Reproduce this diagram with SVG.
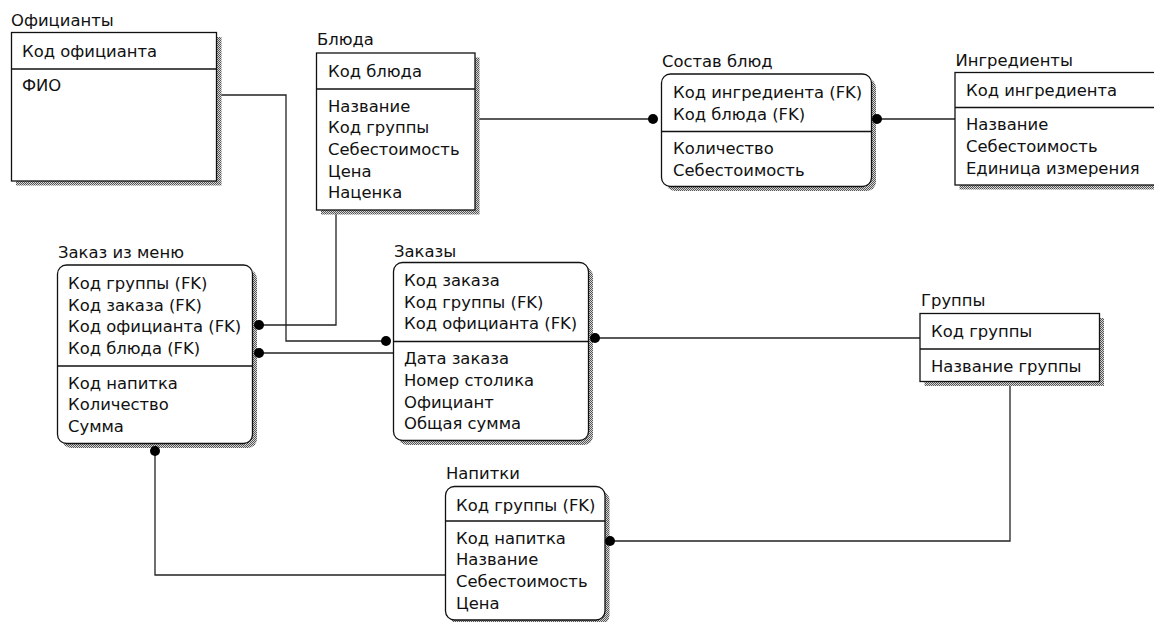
<svg xmlns="http://www.w3.org/2000/svg" width="1154" height="622" viewBox="0 0 1154 622">
<defs>
<pattern id="sh" width="2" height="2" patternUnits="userSpaceOnUse">
<rect width="2" height="2" fill="#d8d8d8"/>
<rect width="1" height="1" fill="#555"/>
<rect x="1" y="1" width="1" height="1" fill="#555"/>
</pattern>
<style>
.t{font-family:"DejaVu Sans",sans-serif;font-size:16.4px;fill:#111}
.box{fill:#fff;stroke:#111;stroke-width:1.3}
.shd{fill:url(#sh);stroke:none}
.div{stroke:#111;stroke-width:1.3}
.c{fill:none;stroke:#222;stroke-width:1.3}
.dot{fill:#000}
</style>
</defs>
<rect width="1154" height="622" fill="#fff"/>

<g id="connectors">
<path class="c" d="M217 95H286V341H386"/>
<path class="c" d="M336 210V325H259"/>
<path class="c" d="M393 353H259"/>
<path class="c" d="M475 119H653"/>
<path class="c" d="M955 119H877"/>
<path class="c" d="M920 338H595"/>
<path class="c" d="M1010 382V541H610"/>
<path class="c" d="M446 575H155V451"/>
</g>

<g id="node-oficianty">
<rect class="shd" x="16" y="37" width="205.5" height="148.5"/>
<rect class="box" x="11.5" y="32.5" width="205" height="148.5"/>
<line class="div" x1="11.5" y1="69" x2="216.5" y2="69"/>
<text class="t" x="11" y="26">Официанты</text>
<text class="t" x="22" y="56.5">Код официанта</text>
<text class="t" x="22" y="91">ФИО</text>
</g>

<g id="node-bluda">
<rect class="shd" x="321" y="57.5" width="158.5" height="157"/>
<rect class="box" x="316.5" y="53" width="158.5" height="157"/>
<line class="div" x1="316.5" y1="89" x2="475" y2="89"/>
<text class="t" x="317" y="45">Блюда</text>
<text class="t" x="328" y="77">Код блюда</text>
<text class="t" x="328" y="111.5">Название</text>
<text class="t" x="328" y="133">Код группы</text>
<text class="t" x="328" y="155">Себестоимость</text>
<text class="t" x="328" y="176.5">Цена</text>
<text class="t" x="328" y="198">Наценка</text>
</g>

<g id="node-sostav">
<rect class="shd" x="666" y="78.5" width="210" height="112.5" rx="9"/>
<rect class="box" x="661.5" y="74" width="210" height="112.5" rx="9"/>
<line class="div" x1="661.5" y1="131.5" x2="871.5" y2="131.5"/>
<text class="t" x="662" y="66.5">Состав блюд</text>
<text class="t" x="673" y="98">Код ингредиента (FK)</text>
<text class="t" x="673" y="119.7">Код блюда (FK)</text>
<text class="t" x="673" y="154.3">Количество</text>
<text class="t" x="673" y="176">Себестоимость</text>
</g>

<g id="node-ingredienty">
<rect class="shd" x="959.5" y="77" width="210" height="112.5"/>
<rect class="box" x="955" y="72.5" width="210" height="112.5"/>
<line class="div" x1="955" y1="107.5" x2="1165" y2="107.5"/>
<text class="t" x="955.5" y="66">Ингредиенты</text>
<text class="t" x="966" y="96">Код ингредиента</text>
<text class="t" x="966" y="130.3">Название</text>
<text class="t" x="966" y="152">Себестоимость</text>
<text class="t" x="966" y="173.7">Единица измерения</text>
</g>

<g id="node-zakaz-iz-menu">
<rect class="shd" x="62" y="269.5" width="195" height="178.5" rx="9"/>
<rect class="box" x="57.5" y="265" width="195" height="178.5" rx="9"/>
<line class="div" x1="57.5" y1="366" x2="252.5" y2="366"/>
<text class="t" x="58" y="258">Заказ из меню</text>
<text class="t" x="68" y="289">Код группы (FK)</text>
<text class="t" x="68" y="310.7">Код заказа (FK)</text>
<text class="t" x="68" y="332.3">Код официанта (FK)</text>
<text class="t" x="68" y="354">Код блюда (FK)</text>
<text class="t" x="68" y="388.7">Код напитка</text>
<text class="t" x="68" y="410.3">Количество</text>
<text class="t" x="68" y="432">Сумма</text>
</g>

<g id="node-zakazy">
<rect class="shd" x="398" y="267" width="195" height="178" rx="9"/>
<rect class="box" x="393.5" y="262.5" width="195" height="178" rx="9"/>
<line class="div" x1="393.5" y1="341.5" x2="588.5" y2="341.5"/>
<text class="t" x="394" y="256.5">Заказы</text>
<text class="t" x="404" y="286">Код заказа</text>
<text class="t" x="404" y="307.7">Код группы (FK)</text>
<text class="t" x="404" y="329.3">Код официанта (FK)</text>
<text class="t" x="404" y="364.3">Дата заказа</text>
<text class="t" x="404" y="386">Номер столика</text>
<text class="t" x="404" y="407.7">Официант</text>
<text class="t" x="404" y="429.3">Общая сумма</text>
</g>

<g id="node-gruppy">
<rect class="shd" x="924.5" y="318" width="179.5" height="68"/>
<rect class="box" x="920" y="313.5" width="179.5" height="68"/>
<line class="div" x1="920" y1="349" x2="1099.5" y2="349"/>
<text class="t" x="921" y="306">Группы</text>
<text class="t" x="931" y="337">Код группы</text>
<text class="t" x="931" y="371.7">Название группы</text>
</g>

<g id="node-napitki">
<rect class="shd" x="450" y="491" width="159.5" height="133.5" rx="9"/>
<rect class="box" x="445.5" y="486.5" width="159.5" height="133.5" rx="9"/>
<line class="div" x1="445.5" y1="521" x2="605" y2="521"/>
<text class="t" x="446" y="479">Напитки</text>
<text class="t" x="456" y="510.5">Код группы (FK)</text>
<text class="t" x="456" y="543.7">Код напитка</text>
<text class="t" x="456" y="565.3">Название</text>
<text class="t" x="456" y="587">Себестоимость</text>
<text class="t" x="456" y="608.7">Цена</text>
</g>

<g id="endpoints">
<circle class="dot" cx="386" cy="341" r="5"/>
<circle class="dot" cx="259" cy="325" r="5"/>
<circle class="dot" cx="259" cy="353" r="5"/>
<circle class="dot" cx="653" cy="119" r="5"/>
<circle class="dot" cx="877" cy="119" r="5"/>
<circle class="dot" cx="595" cy="338" r="5"/>
<circle class="dot" cx="610" cy="541" r="5"/>
<circle class="dot" cx="155" cy="451" r="5"/>
</g>
</svg>
